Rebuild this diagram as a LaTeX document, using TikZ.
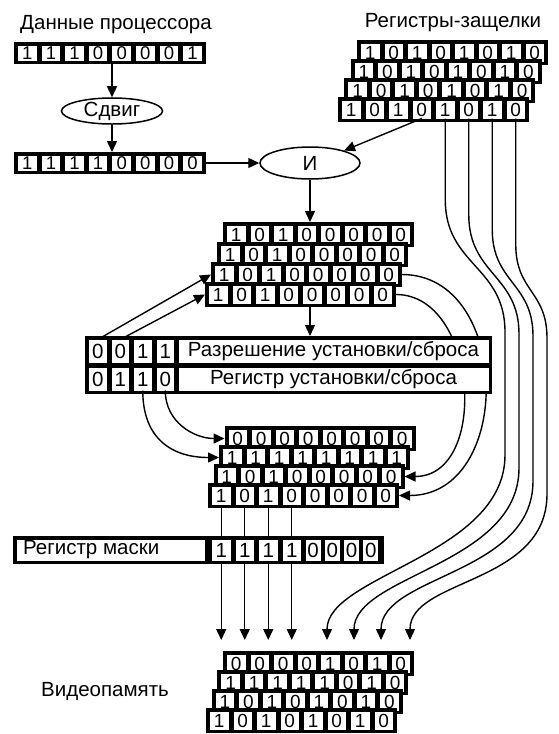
\documentclass[tikz,border=0pt]{standalone}
\usepackage{fontspec}
\setmainfont{Liberation Sans}
\usetikzlibrary{arrows.meta,shapes.geometric}

\newcommand\lblfont{\fontsize{20.5}{22}\selectfont}
\newcommand\bitsz{19}
\newcommand\bitfont{\fontsize{\bitsz}{\bitsz}\selectfont}

\tikzset{
  regframe/.style={fill=black, draw=none, inner sep=0pt, outer sep=0pt, anchor=north west},
  bitcell/.style={fill=white, draw=none, inner sep=0pt, outer sep=0pt, font=\bitfont},
  txt/.style={font=\lblfont, inner sep=0pt},
  conn/.style={line width=1.4pt},
  arr/.style={conn, -{Triangle[length=11pt,width=10pt]}},
  oval/.style={ellipse, draw, line width=1.5pt, fill=white, inner sep=0pt, font=\lblfont},
}

% one 8-bit register row: name, left, top, pitch, height, bits
\newcommand\bitrow[6]{%
  \node[regframe, minimum width={8*#4+3}, minimum height=#5] (#1) at (#2,#3) {};
  \foreach \bitv [count=\k] in {#6}{%
    \node[bitcell, minimum width={#4-5}, minimum height={#5-7}] (#1-\k)
      at ({#2+1.5+(\k-0.5)*#4},{#3+#5/2}) {\bitv};
  }%
}
% a row of a stacked register set: name, left, top, bits
\newcommand\stackrow[4]{\bitrow{#1}{#2}{#3}{23.5}{25}{#4}}

\begin{document}
\begin{tikzpicture}[x=1pt,y=-1pt]
\useasboundingbox (0,0) rectangle (559,734);

% processor data and shifter
\node[txt] (cpulbl) at (116,25) {Данные процессора};
\renewcommand\bitsz{18.5}
\bitrow{regA}{14}{42}{23.6}{22}{1,1,1,0,0,0,0,1}
\node[oval, minimum width=101pt, minimum height=25pt] (shift) at (112,111) {Сдвиг};
\bitrow{regB}{14}{152}{23.6}{22}{1,1,1,1,0,0,0,0}
\node[oval, minimum width=100pt, minimum height=32pt] (and) at (310,163) {И};

\renewcommand\bitsz{19}
% latch registers
\node[txt] (latchlbl) at (453,23) {Регистры-защелки};
\stackrow{L1}{357}{40}{1,0,1,0,1,0,1,0}
\stackrow{L2}{350.7}{59}{1,0,1,0,1,0,1,0}
\stackrow{L3}{344.3}{78}{1,0,1,0,1,0,1,0}
\stackrow{L4}{338}{97}{1,0,1,0,1,0,1,0}

% result of the logic operation
\stackrow{M1}{223}{222}{1,0,1,0,0,0,0,0}
\stackrow{M2}{217}{242}{1,0,1,0,0,0,0,0}
\stackrow{M3}{211}{262}{1,0,1,0,0,0,0,0}
\stackrow{M4}{205}{282}{1,0,1,0,0,0,0,0}

% after set/reset
\stackrow{D1}{224.5}{426}{0,0,0,0,0,0,0,0}
\stackrow{D2}{219}{445}{1,1,1,1,1,1,1,1}
\stackrow{D3}{213.5}{464}{1,0,1,0,0,0,0,0}
\stackrow{D4}{208}{483}{1,0,1,0,0,0,0,0}

% mask register
\renewcommand\bitsz{20.5}
\node[regframe, minimum width=371, minimum height=28] (mask) at (13,536) {};
\node[bitcell, minimum width=188, minimum height=21, anchor=west] (masklbl) at (16.5,550) {};
\node[txt, anchor=west] (masktxt) at (23,550) {Регистр маски};
\foreach \bitv/\cx/\cw [count=\k] in {1/221.25/18.5, 1/244.75/18.5, 1/268.25/18.5, 1/291.75/18.5,
    0/313/15, 0/332.25/15, 0/351.5/15, 0/370.75/15}
  \node[bitcell, minimum width=\cw, minimum height=21] (MK-\k) at (\cx,550) {\bitv};

% video memory
\renewcommand\bitsz{19}
\node[txt] (vmlbl) at (105,691) {Видеопамять};
\stackrow{V1}{223}{651}{0,0,0,0,1,0,1,0}
\stackrow{V2}{217.3}{670}{1,1,1,1,1,0,1,0}
\stackrow{V3}{211.6}{689}{1,0,1,0,1,0,1,0}
\stackrow{V4}{206}{708}{1,0,1,0,1,0,1,0}

% data path at the top
\draw[arr] (shift.north |- regA.south) -- (shift.north);
\draw[arr] (shift.south) -- (shift.south |- regB.north);
\draw[arr] (regB.east) -- (and.west);
\draw[arr] (L4-4.south) -- (and.20);
\draw[arr] (and.south) -- (and.south |- M1.north);

% planes passed through unchanged (run behind the set/reset box)
\draw[arr] (M3.east) .. controls +(110,0) and +(115,0) .. (D4.east);
\draw[arr] (M4.east) .. controls +(82,0) and +(85,0) .. (D3.east);

% set/reset registers
\renewcommand\bitsz{20.5}
\node[regframe, minimum width=407, minimum height=58] (sr) at (85,336) {};
\foreach \bitv [count=\k] in {0,0,1,1}
  \node[bitcell, minimum width=17.5, minimum height=23] (SE-\k) at ({86.5+(\k-0.5)*22.5},351) {\bitv};
\node[bitcell, minimum width=310, minimum height=23, font=\lblfont] (selbl) at (333.5,351) {Разрешение установки/сброса};
\foreach \bitv [count=\k] in {0,1,1,0}
  \node[bitcell, minimum width=17.5, minimum height=23] (SR-\k) at ({86.5+(\k-0.5)*22.5},379) {\bitv};
\node[bitcell, minimum width=310, minimum height=23, font=\lblfont] (srlbl) at (333.5,379) {Регистр установки/сброса};

\draw[arr] (and.south |- M4.south) -- (and.south |- sr.north);
\draw[arr] (SE-1.north) -- (M3.west);
\draw[arr] (SE-2.north) -- (M4.west);
\draw[arr] (SR-4.south) .. controls +(0,32) and +(-30,0) .. (D1.west);
\draw[arr] (SR-3.south) .. controls +(0,50) and +(-45,0) .. (D2.west);

% masked bits
\coordinate (tips) at (0,640);
\foreach \k in {1,...,4}{
  \draw[conn] (D4-\k.south) -- (MK-\k.north);
  \draw[arr] (MK-\k.south) -- (MK-\k.south |- tips);
}

% latch bits routed around to video memory
\coordinate (v5) at (327,640);
\coordinate (v6) at (354,640);
\coordinate (v7) at (381,640);
\coordinate (v8) at (410,640);
\draw[arr] (L4-5.south) -- ++(0,81) .. controls +(0,66) and (505,266) .. (505,332)
  -- (505,455) .. controls (505,555) and (327,575) .. (v5);
\draw[arr] (L4-6.south) -- ++(0,96) .. controls +(0,60) and (519,275) .. (519,334)
  -- (519,468) .. controls (519,565) and (354,575) .. (v6);
\draw[arr] (L4-7.south) -- ++(0,111) .. controls +(0,53) and (533,283) .. (533,336)
  -- (533,481) .. controls (533,575) and (381,575) .. (v7);
\draw[arr] (L4-8.south) -- ++(0,126) .. controls +(0,47) and (547,291) .. (547,338)
  -- (547,494) .. controls (547,585) and (410,578) .. (v8);
\end{tikzpicture}
\end{document}
